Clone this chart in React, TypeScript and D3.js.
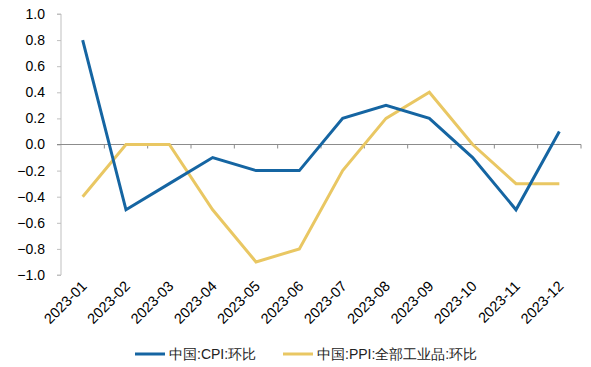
import React, { useEffect, useRef } from 'react';
import * as d3 from 'd3';

const months = ['2023-01', '2023-02', '2023-03', '2023-04', '2023-05', '2023-06', '2023-07', '2023-08', '2023-09', '2023-10', '2023-11', '2023-12'];
const cpiValues = [0.8, -0.5, -0.3, -0.1, -0.2, -0.2, 0.2, 0.3, 0.2, -0.1, -0.5, 0.1];
const ppiValues = [-0.4, 0.0, 0.0, -0.5, -0.9, -0.8, -0.2, 0.2, 0.4, 0.0, -0.3, -0.3];
const yTicks = [1.0, 0.8, 0.6, 0.4, 0.2, 0.0, -0.2, -0.4, -0.6, -0.8, -1.0];
const seriesNames = ['中国:CPI:环比', '中国:PPI:全部工业品:环比'];

const BLUE = '#1565a2';
const YELLOW = '#e9c763';

const App = () => {
  const ref = useRef<SVGSVGElement | null>(null);

  useEffect(() => {
    document.body.style.margin = '0';
    const svg = d3.select(ref.current);
    svg.selectAll('*').remove();

    const width = 591;
    const height = 367;
    const margin = { top: 14, right: 10, bottom: 92, left: 61 };

    const x = d3.scaleBand<string>()
      .domain(months)
      .range([margin.left, width - margin.right]);

    const y = d3.scaleLinear()
      .domain([-1, 1])
      .range([height - margin.bottom, margin.top]);

    const font = 'Liberation Sans, Arial, sans-serif';

    // y axis
    const yAxis = svg.append('g')
      .attr('transform', `translate(${margin.left},0)`)
      .call(d3.axisLeft(y).tickValues(yTicks).tickSize(4).tickPadding(12).tickFormat(d3.format('.1f')));
    yAxis.selectAll('.domain').attr('stroke', '#bfbfbf').attr('d', `M-4,${y(1)}H0V${y(-1)}H-4`);
    yAxis.selectAll('.tick line').attr('stroke', '#bfbfbf');
    yAxis.selectAll('.tick text')
      .attr('font-family', font)
      .attr('font-size', 14)
      .attr('fill', '#000');

    // x axis at zero
    const xAxis = svg.append('g')
      .attr('transform', `translate(0,${y(0)})`)
      .call(d3.axisBottom(x).tickSize(0).tickFormat(() => ''));
    xAxis.selectAll('.domain').attr('stroke', '#8c8c8c').attr('d', `M${margin.left - 4},0H${width - margin.right}`);
    xAxis.selectAll('.tick').remove();
    // boundary ticks
    const bounds = months.map((m) => x(m) as number).concat([x.range()[1]]);
    xAxis.selectAll('line.bt')
      .data(bounds.slice(1))
      .enter()
      .append('line')
      .attr('x1', (d) => d)
      .attr('x2', (d) => d)
      .attr('y1', 0)
      .attr('y2', 4)
      .attr('stroke', '#8c8c8c');

    // x labels rotated
    svg.append('g')
      .selectAll('text')
      .data(months)
      .enter()
      .append('text')
      .attr('transform', (d) => `translate(${(x(d) as number) + x.bandwidth() / 2 + 5},${height - margin.bottom + 12}) rotate(-45)`)
      .attr('text-anchor', 'end')
      .attr('font-family', font)
      .attr('font-size', 14.5)
      .attr('fill', '#000')
      .text((d) => d);

    const line = d3.line<number>()
      .x((_, i) => (x(months[i]) as number) + x.bandwidth() / 2)
      .y((d) => y(d));

    svg.append('path')
      .datum(ppiValues)
      .attr('d', line)
      .attr('fill', 'none')
      .attr('stroke', YELLOW)
      .attr('stroke-width', 3);

    svg.append('path')
      .datum(cpiValues)
      .attr('d', line)
      .attr('fill', 'none')
      .attr('stroke', BLUE)
      .attr('stroke-width', 3);

    // legend
    const legendY = 354;
    const legendItems = [
      { name: seriesNames[0], color: BLUE, x: 135 },
      { name: seriesNames[1], color: YELLOW, x: 283 },
    ];
    const lg = svg.append('g');
    legendItems.forEach((item) => {
      lg.append('line')
        .attr('x1', item.x)
        .attr('x2', item.x + 30)
        .attr('y1', legendY)
        .attr('y2', legendY)
        .attr('stroke', item.color)
        .attr('stroke-width', 3);
      lg.append('text')
        .attr('x', item.x + 34)
        .attr('y', legendY)
        .attr('dy', '0.35em')
        .attr('font-family', font)
        .attr('font-size', 14)
        .attr('fill', '#222')
        .text(item.name);
    });
  }, []);

  return <svg ref={ref} width={591} height={367} style={{ display: 'block', background: '#fff' }} />;
};

export default App;
